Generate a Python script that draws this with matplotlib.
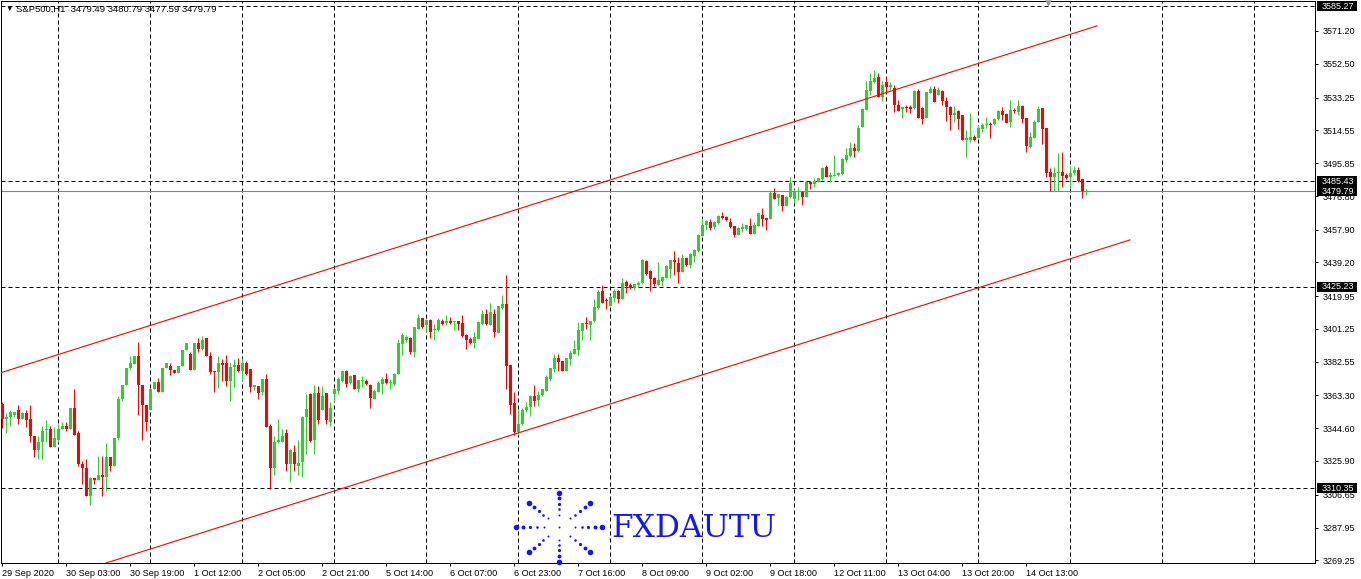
import matplotlib
matplotlib.use("Agg")
import matplotlib.pyplot as plt
from matplotlib.patches import Rectangle
from matplotlib.transforms import blended_transform_factory
import numpy as np

# S&P500 H1 candles (oldest first)
opens = [
    3358.4, 3350, 3351, 3352, 3355, 3350, 3353, 3350, 3340, 3332,
    3337, 3343.5, 3344, 3334, 3338, 3344, 3346, 3344, 3356, 3342,
    3324, 3322, 3306, 3316, 3315, 3318, 3317, 3328, 3323, 3339,
    3361, 3369, 3379, 3381, 3386, 3369, 3358, 3355, 3367, 3371,
    3365, 3379, 3380, 3378, 3376, 3380, 3389, 3387, 3378, 3393,
    3390, 3396, 3386, 3377.5, 3376.6, 3381.9, 3381.9, 3371.8, 3379.4, 3380.4,
    3377.5, 3381.9, 3378.1, 3368, 3368.9, 3365.1, 3372.8, 3346, 3322, 3337,
    3337, 3342, 3324, 3331, 3323, 3325.5, 3350.8, 3364.2, 3338, 3364.8,
    3355, 3364.6, 3348.4, 3364.2, 3366, 3371.8, 3377.5, 3370.5, 3374.7, 3367,
    3371.3, 3371.8, 3369.4, 3361.3, 3365.5, 3369.9, 3372.8, 3370.5, 3370, 3375.6,
    3392.8, 3394.7, 3396, 3388, 3401.4, 3407.4, 3403.3, 3406.1, 3400.4, 3400.4,
    3405.5, 3404.8, 3405.5, 3405.1, 3405.5, 3404.8, 3397.5, 3395.6, 3393.4, 3395.6,
    3404.2, 3409.9, 3403.6, 3409.5, 3398.9, 3413.4, 3415.3, 3380.8, 3359, 3342.3,
    3347, 3355.2, 3356.6, 3363, 3360.8, 3363.6, 3366.1, 3372.8, 3378.5, 3384.6,
    3382.9, 3377, 3384.2, 3387, 3389, 3399.8, 3404.2, 3403.6, 3405.5, 3413.1,
    3422.7, 3417.5, 3414.3, 3419.1, 3423.1, 3418.5, 3428, 3426.5, 3424.6, 3426.5,
    3427.7, 3439.9, 3434.1, 3430.3, 3426.5, 3428.4, 3430.3, 3435.7, 3440.4, 3439,
    3433.7, 3441.9, 3437.6, 3442.9, 3445.6, 3454.3, 3460.4, 3462, 3459.5, 3461.4,
    3465.6, 3465, 3462, 3460, 3454.8, 3458.1, 3458.5, 3460, 3455.5, 3460,
    3466.5, 3464.3, 3463.9, 3478.5, 3475.7, 3477.6, 3471.5, 3476.6, 3475.3, 3479.1,
    3479.1, 3476.6, 3484.8, 3483.7, 3484.8, 3486.7, 3493.8, 3488, 3488.4, 3489,
    3489.4, 3497.6, 3500, 3504.6, 3502.7, 3516.3, 3526.2, 3537.1, 3542, 3544.7,
    3533.3, 3542, 3539, 3538.6, 3529, 3526.6, 3528, 3528.1, 3527.2, 3536.7,
    3527.2, 3521.5, 3535.8, 3538.3, 3534.8, 3536.7, 3531.4, 3527.6, 3523.4, 3525.7,
    3523, 3509.1, 3509.1, 3511, 3510.4, 3515.4, 3517.6, 3518, 3518, 3521,
    3525.6, 3523.8, 3519.1, 3526.2, 3525, 3528.2, 3521.5, 3505, 3510.4, 3519.1,
    3527.2, 3515.7, 3490.6, 3488.1, 3490, 3490.6, 3489, 3488.1, 3490, 3492,
    3486.8, 3479.49,
]
highs = [
    3359.8, 3353, 3355, 3354, 3358, 3354, 3355, 3358, 3340, 3340,
    3346, 3349, 3346, 3345, 3347, 3348, 3348, 3356, 3367, 3343,
    3326, 3327, 3317, 3316, 3329, 3329, 3336, 3328, 3339, 3363,
    3369, 3379, 3386, 3386, 3394, 3369, 3358, 3367, 3371, 3373,
    3379, 3382, 3382, 3378, 3380, 3389, 3393, 3388, 3393, 3396,
    3397, 3396, 3388, 3377.5, 3385.7, 3383.8, 3386.5, 3381.9, 3384.2, 3384.6,
    3384.6, 3382.7, 3378.1, 3369.3, 3368.9, 3372.8, 3375.6, 3347, 3340, 3350,
    3344, 3344, 3333, 3335, 3338, 3351.8, 3364.2, 3364.5, 3369, 3368.6,
    3368.6, 3364.8, 3359.4, 3368, 3373.7, 3378, 3378, 3374.7, 3375, 3372,
    3374.3, 3372.8, 3370, 3367, 3371.8, 3373.7, 3376, 3372.8, 3376, 3395.6,
    3399, 3398, 3396.5, 3402.5, 3410, 3407.5, 3407, 3407, 3404.2, 3407.4,
    3407, 3409, 3408, 3406, 3405.5, 3409, 3398.5, 3396.6, 3399.5, 3406,
    3412, 3412.8, 3416, 3412.4, 3414.3, 3420.4, 3431.9, 3380.8, 3365.2, 3355.6,
    3356, 3359.8, 3363.6, 3369.3, 3366.1, 3367, 3374.7, 3378.9, 3387.1, 3387,
    3383, 3384.6, 3389, 3394.7, 3405.2, 3404.8, 3408, 3405.9, 3418.5, 3423.3,
    3426.5, 3418.9, 3420.8, 3423.8, 3423.3, 3430, 3429, 3427.6, 3427, 3428.4,
    3441.4, 3440.4, 3434.7, 3430.9, 3439.5, 3431.5, 3437.6, 3441, 3445.6, 3442.3,
    3444.2, 3442.3, 3444.8, 3447.1, 3455.1, 3464.3, 3463.3, 3463.9, 3462.7, 3466,
    3468, 3465.6, 3464.3, 3460, 3459.5, 3461.9, 3460.8, 3464.3, 3462, 3467.7,
    3470, 3464.3, 3480.4, 3481.8, 3478, 3477.6, 3477.2, 3488, 3481, 3482.3,
    3479.9, 3485.6, 3485.6, 3487.5, 3487.5, 3493.8, 3494.7, 3490.5, 3500.4, 3490.5,
    3498.6, 3504.6, 3507.7, 3507.1, 3517.6, 3527.2, 3542.8, 3547.2, 3549.1, 3547.2,
    3542.8, 3544.7, 3542, 3540.5, 3532, 3528, 3529, 3529, 3537.7, 3538.3,
    3527.6, 3536.4, 3539.6, 3539.6, 3539, 3537.7, 3533.8, 3528.2, 3528.2, 3526.2,
    3523, 3514.7, 3524.3, 3512, 3517.6, 3518.6, 3522.3, 3519.5, 3521.8, 3526.2,
    3528, 3524.3, 3532, 3527.2, 3532, 3529, 3521.8, 3513.8, 3520.5, 3528.2,
    3527.2, 3515.7, 3492.9, 3493.8, 3501.4, 3502, 3490, 3494.4, 3494.4, 3493.8,
    3486.8, 3480.79,
]
lows = [
    3344.7, 3342, 3346, 3351, 3347, 3350, 3345, 3337, 3328, 3327,
    3327, 3337, 3334, 3334, 3337, 3344, 3343, 3344, 3341, 3323,
    3313, 3306, 3301, 3313, 3315, 3306, 3309, 3320, 3323, 3338,
    3360, 3369, 3378, 3381, 3352, 3338, 3343, 3355, 3367, 3365,
    3365, 3379, 3375, 3376, 3376, 3380, 3389, 3378, 3378, 3388,
    3389, 3386, 3375.6, 3365, 3367.4, 3371.8, 3368.9, 3360.4, 3368, 3376.6,
    3371.8, 3375, 3365.1, 3366.6, 3361.3, 3363.6, 3345, 3310, 3318, 3336,
    3337, 3320, 3314, 3320, 3318, 3316.6, 3330, 3336.6, 3330, 3347,
    3354.7, 3347, 3345.7, 3359.4, 3364.2, 3371, 3368, 3370, 3367, 3365,
    3368, 3369.4, 3356, 3361, 3365, 3364.2, 3370, 3367, 3369.5, 3375.6,
    3386.5, 3394, 3387, 3385, 3401, 3402, 3399.5, 3396, 3394.7, 3400,
    3403.3, 3403.6, 3404.2, 3400.8, 3400.4, 3396.6, 3390, 3392.8, 3390.5, 3395.6,
    3403.6, 3403.3, 3403.6, 3396.6, 3398.9, 3412.8, 3367.1, 3352.8, 3340.8, 3340.8,
    3346.5, 3353.7, 3351.4, 3357.5, 3357.5, 3363.2, 3366, 3371.8, 3376.6, 3377.5,
    3377, 3377, 3380.8, 3387, 3386.5, 3394.7, 3401, 3394.7, 3405, 3412.4,
    3416.2, 3412.8, 3414.3, 3416.6, 3416.2, 3418.5, 3421.9, 3424.2, 3423.3, 3425.2,
    3427.1, 3432.2, 3422.7, 3425.7, 3426.1, 3425.7, 3430.3, 3430.3, 3431.9, 3427.7,
    3433.7, 3437.2, 3436, 3439.5, 3445.2, 3454.3, 3458.5, 3457.5, 3458.1, 3461,
    3464, 3462.7, 3458.9, 3453.7, 3454.7, 3456.6, 3457.5, 3455.1, 3455.5, 3460,
    3459.9, 3457.5, 3463.9, 3475.3, 3472.2, 3468.4, 3471.5, 3475.7, 3472.8, 3474.7,
    3472.2, 3476.6, 3481, 3482.3, 3484.8, 3486.1, 3488, 3485.2, 3488.4, 3488.6,
    3489, 3496.6, 3499.5, 3499.5, 3502.3, 3516.3, 3526.2, 3534.8, 3541.5, 3533.3,
    3531, 3536.7, 3537.7, 3524.9, 3525.3, 3521.5, 3524.9, 3524.3, 3526.8, 3521.5,
    3518.1, 3521.5, 3535.8, 3530.6, 3534.8, 3529, 3520, 3514.8, 3519.5, 3515.4,
    3509.1, 3499.5, 3508, 3508.5, 3510, 3513.8, 3515.7, 3510, 3517.6, 3520.5,
    3520.5, 3518.6, 3516.7, 3524.3, 3523.4, 3518.6, 3502.4, 3504.7, 3510, 3519.1,
    3506.6, 3488.1, 3479.9, 3479.9, 3479.9, 3482.4, 3486.7, 3481.4, 3489, 3485.2,
    3476, 3477.59,
]
closes = [
    3349.8, 3351, 3354, 3354, 3350, 3353, 3349.5, 3340, 3332, 3337,
    3343, 3344, 3334, 3339, 3344, 3346, 3344, 3356, 3341, 3324,
    3322, 3306, 3316, 3315, 3318, 3317, 3328, 3323, 3339, 3361,
    3369, 3379, 3382, 3386, 3369, 3358, 3348, 3367, 3371, 3365,
    3379, 3382, 3378, 3376, 3380, 3389, 3393, 3378, 3393, 3390,
    3395, 3386, 3376.6, 3376.6, 3381.9, 3380.9, 3371.8, 3379.4, 3380.8, 3377.5,
    3381.9, 3375.6, 3368, 3369.3, 3364.7, 3372.8, 3345, 3322, 3337, 3338,
    3340, 3324, 3332, 3324, 3325, 3350.8, 3355.6, 3337.5, 3364.8, 3349,
    3362.7, 3349, 3356, 3366.7, 3372.8, 3377.5, 3370, 3374.3, 3367, 3372,
    3371.3, 3369.6, 3362, 3366.1, 3370.5, 3372.8, 3370.5, 3370.5, 3375.6, 3393.4,
    3397.5, 3396.6, 3388, 3402.3, 3407.4, 3402.3, 3406.1, 3399.5, 3401, 3406.1,
    3404.2, 3405.5, 3404.8, 3405.1, 3404.2, 3397, 3394.7, 3393.4, 3396.6, 3405.2,
    3409.5, 3404.2, 3410.9, 3399.5, 3414.1, 3415.3, 3379.8, 3358.1, 3342.3, 3347,
    3355.2, 3356.9, 3363.2, 3360.4, 3363.6, 3366.7, 3373.7, 3378.9, 3384.6, 3382.3,
    3377.5, 3384.6, 3387.6, 3389.5, 3400.4, 3404.8, 3403.8, 3405.9, 3413.7, 3422.3,
    3416.2, 3417.2, 3419.5, 3422.7, 3418.5, 3427.7, 3425.7, 3424.6, 3426.7, 3427.6,
    3440.4, 3432.8, 3429.9, 3427.1, 3429, 3430.9, 3437, 3440.4, 3439.5, 3433.7,
    3441.9, 3437.6, 3443.7, 3446.1, 3454.7, 3460.8, 3462.9, 3458.9, 3462, 3465.6,
    3464.3, 3463.3, 3459.5, 3454.7, 3459, 3459.5, 3460.4, 3455.1, 3460.8, 3467.1,
    3463.9, 3463.5, 3478.5, 3475.3, 3478, 3471.5, 3476.6, 3484.2, 3479.1, 3479.5,
    3476.6, 3484.8, 3483.7, 3485.6, 3487.1, 3493.2, 3488, 3489, 3489, 3489.9,
    3498.1, 3500.4, 3504.6, 3502.7, 3516, 3526.6, 3537.7, 3542.4, 3544.3, 3533.3,
    3540.5, 3539, 3540.5, 3529, 3525.6, 3528, 3527.2, 3526.8, 3536.7, 3521.5,
    3521.1, 3536.4, 3538.3, 3530.6, 3537.7, 3531.4, 3527.6, 3523, 3524.3, 3521.1,
    3509.1, 3510, 3511, 3509.1, 3515.7, 3517.6, 3518, 3517.6, 3521, 3525.6,
    3523, 3518.6, 3526.2, 3525.3, 3528.2, 3521.1, 3505.3, 3510.9, 3519.5, 3526.8,
    3515.4, 3490, 3488.1, 3490, 3490.6, 3488.7, 3487.1, 3490, 3492, 3485.6,
    3479.9, 3479.79,
]

date_labels = ["29 Sep 2020", "30 Sep 03:00", "30 Sep 19:00", "1 Oct 12:00",
               "2 Oct 05:00", "2 Oct 21:00", "5 Oct 14:00", "6 Oct 07:00",
               "6 Oct 23:00", "7 Oct 16:00", "8 Oct 09:00", "9 Oct 02:00",
               "9 Oct 18:00", "12 Oct 11:00", "13 Oct 04:00", "13 Oct 20:00",
               "14 Oct 13:00"]
price_ticks = [3571.20, 3552.50, 3533.25, 3514.55, 3495.85, 3476.80, 3457.90,
               3439.20, 3419.95, 3401.25, 3382.55, 3363.30, 3344.60, 3325.90,
               3306.65, 3287.95, 3269.25]
level_prices = [3585.27, 3485.43, 3425.23, 3310.35]
bid_price = 3479.79

# channel drawn on the chart (bar index, price)
upper_x = [-0.5, 273.75]
upper_y = [3376.1, 3574.1]
lower_x = [26, 282]
lower_y = [3267.7, 3452.0]

plt.rcParams['font.family'] = ['Liberation Sans', 'DejaVu Sans']

W, H = 1361, 579
fig = plt.figure(figsize=(W / 100, H / 100), dpi=100)
fig.patch.set_facecolor('white')
ax = fig.add_axes([1 / W, 16 / H, 1314 / W, 562 / H])

o = np.array(opens)
c = np.array(closes)
hi = np.array(highs)
lo = np.array(lows)
x = np.arange(len(o))

colors = np.where(c > o, '#32CD32', np.where(c < o, '#FF0000', '#00FF00'))
ax.vlines(x, lo, hi, colors=colors, linewidth=0.72, zorder=3)
body = np.maximum(np.abs(c - o), 0.6)
ax.bar(x, body, bottom=np.minimum(o, c), width=0.75, color=colors,
       linewidth=0, zorder=3)

# vertical grid
for gx in range(14, 330, 23):
    ax.axvline(gx, color='black', linewidth=0.72, linestyle=(0, (4, 3)), zorder=1)

# horizontal levels
for p in level_prices:
    ax.axhline(p, color='black', linewidth=0.72, linestyle=(0, (4, 3)), zorder=2)
ax.axhline(bid_price, color='#778899', linewidth=0.8, zorder=2)

# channel
ax.plot(upper_x, upper_y, color='#FF0000', linewidth=0.8, zorder=4)
ax.plot(lower_x, lower_y, color='#FF0000', linewidth=0.8, zorder=4)

ax.set_xlim(-0.25, 328.25)
ax.set_ylim(3267.7, 3588.3)

ax.set_xticks(np.arange(len(date_labels)) * 16)
ax.set_xticklabels(date_labels)
for lbl in ax.get_xticklabels():
    lbl.set_ha('left')
ax.tick_params(axis='x', length=2.2, width=0.72, pad=2, labelsize=6.6)

ax.yaxis.tick_right()
ax.set_yticks(price_ticks)
ax.set_yticklabels([f"{p:.2f}" for p in price_ticks])
ax.tick_params(axis='y', length=2.2, width=0.72, pad=3.5, labelsize=6.5)

for s in ax.spines.values():
    s.set_linewidth(0.72)
    s.set_color('black')

# black price tags on the right scale
trans = blended_transform_factory(ax.transAxes, ax.transData)
for p in level_prices + [bid_price]:
    ax.add_patch(Rectangle((1316 / 1314, p - 2.85), 40 / 1314, 5.7,
                           transform=trans, facecolor='black', edgecolor='none',
                           clip_on=False, zorder=10))
    ax.text(1321 / 1314, p, f"{p:.2f}", transform=trans, color='white',
            fontsize=6.5, va='center', ha='left', clip_on=False, zorder=11)

# header
fig.text(5 / W, 1 - 9 / H, "\u25bc", fontsize=5.5, va='center', ha='left')
fig.text(16 / W, 1 - 9 / H, "S&P500,H1  3479.49 3480.79 3477.59 3479.79",
         fontsize=6.8, va='center', ha='left')

# overlay in pixel coordinates for the watermark
ov = fig.add_axes([0, 0, 1, 1], zorder=5)
ov.set_xlim(0, W)
ov.set_ylim(H, 0)
ov.axis('off')
ov.patch.set_alpha(0)

blue = '#1414ff'
cx, cy, rx, ry = 559.3, 527.3, 43, 34.6
fracs = [0.36, 0.52, 0.67, 0.84, 1.0]
dsize = [2.0, 2.6, 3.2, 3.9, 5.6]
for k in range(8):
    a = np.deg2rad(45 * k)
    for f, d in zip(fracs, dsize):
        ov.scatter(cx + rx * f * np.cos(a), cy - ry * f * np.sin(a),
                   s=(d * 0.72) ** 2, color=blue, linewidths=0)
ov.scatter(cx, cy, s=(2.0 * 0.72) ** 2, color=blue, linewidths=0)
ov.text(611, 537, "FXDAUTU", family='DejaVu Serif', fontsize=22.5, color=blue,
        va='baseline', ha='left')

# small chart-shift marker at the top
ov.scatter(1048, 2.5, marker='v', s=22, color='#9a9a9a', linewidths=0)

fig.savefig('out.png', dpi=100)
